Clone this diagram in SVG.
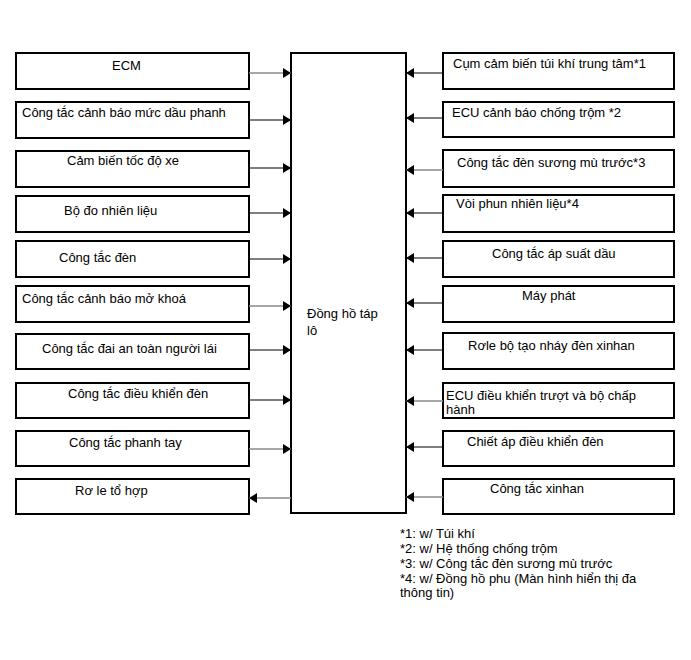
<svg xmlns="http://www.w3.org/2000/svg" width="691" height="660" viewBox="0 0 691 660">
<defs>
<marker id="ah" viewBox="0 0 8 10" markerWidth="8" markerHeight="10" markerUnits="userSpaceOnUse" refX="8" refY="5" orient="auto">
<path d="M0,0 L8,5 L0,10 z" fill="#000"/>
</marker>
</defs>
<style>
.box{fill:#fff;stroke:#000;stroke-width:2}
.t{font-family:"Liberation Sans",Arial,sans-serif;font-size:13px;fill:#000}
.c{stroke:#000;stroke-width:1.2;fill:none;marker-end:url(#ah)}
.g{stroke:#8a8a8a;stroke-width:1.5;fill:none;marker-end:url(#ah)}
</style>
<rect width="691" height="660" fill="#fff"/>

<g id="center"><rect class="box" x="291" y="53" width="115" height="460"/><text class="t" x="307" y="318">Đồng hồ táp</text><text class="t" x="307" y="335">lô</text></g>

<g id="L1"><rect class="box" x="16" y="53" width="233" height="36"/><text class="t" x="112" y="70">ECM</text></g>
<g id="L2"><rect class="box" x="16" y="102" width="233" height="36"/><text class="t" x="22" y="117">Công tắc cảnh báo mức dầu phanh</text></g>
<g id="L3"><rect class="box" x="16" y="151" width="233" height="36"/><text class="t" x="67" y="165">Cảm biến tốc độ xe</text></g>
<g id="L4"><rect class="box" x="16" y="196" width="233" height="36"/><text class="t" x="64" y="215">Bộ đo nhiên liệu</text></g>
<g id="L5"><rect class="box" x="16" y="241" width="233" height="36"/><text class="t" x="59" y="262">Công tắc đèn</text></g>
<g id="L6"><rect class="box" x="16" y="286" width="233" height="36"/><text class="t" x="22" y="303">Công tắc cảnh báo mở khoá</text></g>
<g id="L7"><rect class="box" x="16" y="334" width="233" height="35"/><text class="t" x="42" y="353">Công tắc đai an toàn người lái</text></g>
<g id="L8"><rect class="box" x="16" y="383" width="233" height="35"/><text class="t" x="68" y="398">Công tắc điều khiển đèn</text></g>
<g id="L9"><rect class="box" x="16" y="431" width="233" height="35"/><text class="t" x="69" y="447">Công tắc phanh tay</text></g>
<g id="L10"><rect class="box" x="16" y="479" width="233" height="35"/><text class="t" x="75" y="495">Rơ le tổ hợp</text></g>

<g id="R1"><rect class="box" x="443" y="53" width="231" height="36"/><text class="t" x="453" y="68">Cụm cảm biến túi khí trung tâm*1</text></g>
<g id="R2"><rect class="box" x="443" y="102" width="231" height="35"/><text class="t" x="452" y="117">ECU cảnh báo chống trộm *2</text></g>
<g id="R3"><rect class="box" x="443" y="150" width="231" height="37"/><text class="t" x="457" y="167">Công tắc đèn sương mù trước*3</text></g>
<g id="R4"><rect class="box" x="443" y="195" width="231" height="37"/><text class="t" x="456" y="208">Vòi phun nhiên liệu*4</text></g>
<g id="R5"><rect class="box" x="443" y="241" width="231" height="36"/><text class="t" x="492" y="258">Công tắc áp suất dầu</text></g>
<g id="R6"><rect class="box" x="443" y="286" width="231" height="36"/><text class="t" x="522" y="300">Máy phát</text></g>
<g id="R7"><rect class="box" x="443" y="333" width="231" height="36"/><text class="t" x="468" y="350">Rơle bộ tạo nháy đèn xinhan</text></g>
<g id="R8"><rect class="box" x="443" y="383" width="231" height="35"/><text class="t" x="446" y="400">ECU điều khiển trượt và bộ chấp</text><text class="t" x="446" y="414">hành</text></g>
<g id="R9"><rect class="box" x="443" y="431" width="231" height="35"/><text class="t" x="467" y="446">Chiết áp điều khiển đèn</text></g>
<g id="R10"><rect class="box" x="443" y="479" width="231" height="35"/><text class="t" x="490" y="493">Công tắc xinhan</text></g>

<g id="connectors">
<line class="g" x1="249" y1="73" x2="291" y2="73"/>
<line class="c" x1="249" y1="120" x2="291" y2="120"/>
<line class="c" x1="249" y1="168" x2="291" y2="168"/>
<line class="c" x1="249" y1="213" x2="291" y2="213"/>
<line class="c" x1="249" y1="259" x2="291" y2="259"/>
<line class="g" x1="249" y1="306" x2="291" y2="306"/>
<line class="c" x1="249" y1="350" x2="291" y2="350"/>
<line class="c" x1="249" y1="400" x2="291" y2="400"/>
<line class="g" x1="249" y1="449" x2="291" y2="449"/>
<line class="g" x1="291" y1="498" x2="249" y2="498"/>
<line class="c" x1="443" y1="73" x2="406" y2="73"/>
<line class="c" x1="443" y1="118" x2="406" y2="118"/>
<line class="g" x1="443" y1="170" x2="406" y2="170"/>
<line class="c" x1="443" y1="213" x2="406" y2="213"/>
<line class="c" x1="443" y1="258" x2="406" y2="258"/>
<line class="c" x1="443" y1="303" x2="406" y2="303"/>
<line class="c" x1="443" y1="350" x2="406" y2="350"/>
<line class="g" x1="443" y1="401" x2="406" y2="401"/>
<line class="c" x1="443" y1="447" x2="406" y2="447"/>
<line class="g" x1="443" y1="497" x2="406" y2="497"/>
</g>

<g id="notes">
<text class="t" x="400" y="538">*1: w/ Túi khí</text>
<text class="t" x="400" y="553">*2: w/ Hệ thống chống trộm</text>
<text class="t" x="400" y="568">*3: w/ Công tắc đèn sương mù trước</text>
<text class="t" x="400" y="583">*4: w/ Đồng hồ phu (Màn hình hiển thị đa</text>
<text class="t" x="400" y="597">thông tin)</text>
</g>
</svg>
